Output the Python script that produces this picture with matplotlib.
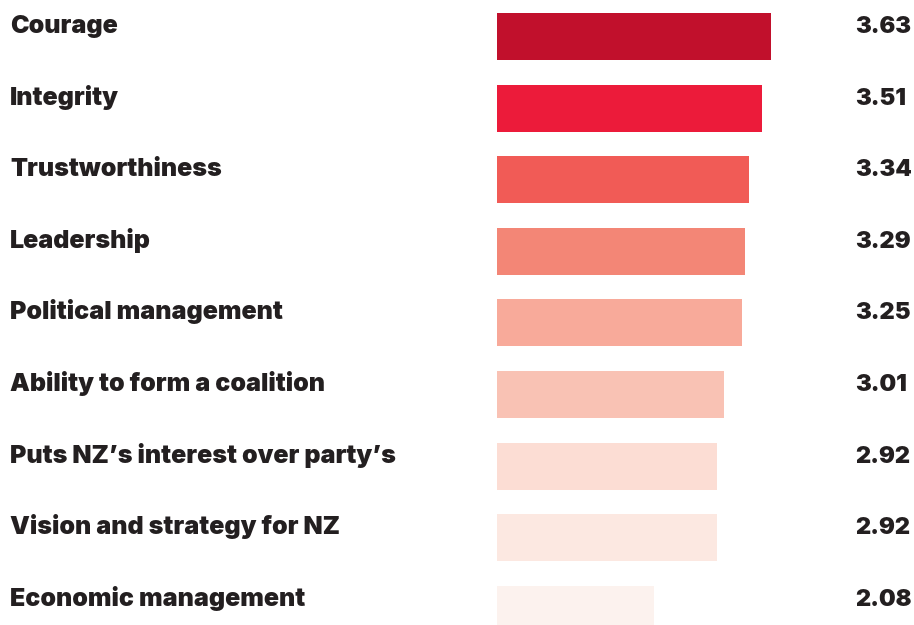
import matplotlib
matplotlib.use("Agg")
import matplotlib.pyplot as plt

categories = [
    "Courage",
    "Integrity",
    "Trustworthiness",
    "Leadership",
    "Political management",
    "Ability to form a coalition",
    "Puts NZ\u2019s interest over party\u2019s",
    "Vision and strategy for NZ",
    "Economic management",
]
scores = [3.63, 3.51, 3.34, 3.29, 3.25, 3.01, 2.92, 2.92, 2.08]
colors = ["#C1102C", "#EC1B3A", "#F15B56", "#F38676", "#F8AA9A",
          "#F9C2B4", "#FCDDD4", "#FCE8E1", "#FCF2EE"]

W, H, DPI = 914, 625, 100
fig = plt.figure(figsize=(W / DPI, H / DPI), dpi=DPI)
fig.patch.set_facecolor("white")

# bars start at pixel 497, ~75.5 px per score unit, rows ~71.6 px apart
x0 = 497
ax = fig.add_axes([x0 / W, 0, 1 - x0 / W, 1])
px_per_unit = 75.5
ax.set_xlim(0, (W - x0) / px_per_unit)
row = 71.6
ax.set_ylim((H - 36.5) / row, -36.5 / row)
ax.axis("off")

ypos = list(range(len(categories)))
ax.barh(ypos, scores, height=47 / row, color=colors, left=0)

font = dict(family=["Inter", "DejaVu Sans"], fontweight=900, color="#231F20")
for i, (cat, val) in enumerate(zip(categories, scores)):
    fig_y = 1 - (36.5 + row * i - 3.5) / H
    fig.text(10 / W, fig_y, cat, ha="left", va="baseline", fontsize=18, **font)
    fig.text(855 / W, fig_y, f"{val:.2f}", ha="left", va="baseline", fontsize=17, **font)

fig.savefig("out.png", dpi=DPI, facecolor="white")
